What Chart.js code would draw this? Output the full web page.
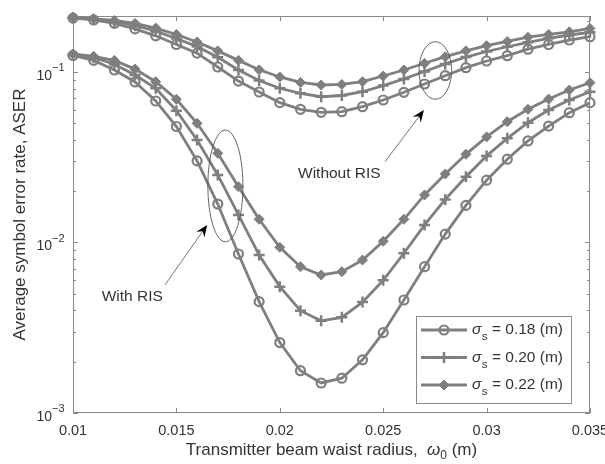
<!DOCTYPE html>
<html lang="en">
<head>
<meta charset="UTF-8">
<title>ASER vs transmitter beam waist radius</title>
<script src="https://cdn.jsdelivr.net/npm/chart.js"></script>
<style>
    body { margin: 0; background: #ffffff; }
    #wrap { width: 605px; height: 464px; }
</style>
</head>
<body>
<div id="wrap"><canvas id="aserChart" width="605" height="464"></canvas></div>
<script>
// transmitter beam waist radius omega_0 (m)
const waist = [0.010, 0.011, 0.012, 0.013, 0.014, 0.015, 0.016, 0.017, 0.018, 0.019, 0.020, 0.021, 0.022,
               0.023, 0.024, 0.025, 0.026, 0.027, 0.028, 0.029, 0.030, 0.031, 0.032, 0.033, 0.034, 0.035];

// with RIS
const risS018 = [0.1250, 0.117, 0.1027, 0.0874, 0.0676, 0.0479, 0.0301, 0.0168, 0.00856, 0.0045, 0.00259, 0.00177, 0.00150,
                 0.0016, 0.00205, 0.00296, 0.0046, 0.00721, 0.0112, 0.0165, 0.0232, 0.0308, 0.0394, 0.0482, 0.0577, 0.0661];
const risS020 = [0.1262, 0.1216, 0.111, 0.096, 0.0803, 0.0593, 0.0399, 0.0249, 0.0145, 0.00845, 0.00551, 0.00398, 0.00347,
                 0.00364, 0.00447, 0.0060, 0.00865, 0.01267, 0.0179, 0.0243, 0.0322, 0.0408, 0.0504, 0.0599, 0.0685, 0.0766];
const risS022 = [0.1275, 0.1236, 0.117, 0.104, 0.0877, 0.0692, 0.0500, 0.0334, 0.02125, 0.01368, 0.00937, 0.00721, 0.00645,
                 0.00674, 0.00789, 0.01016, 0.01368, 0.0190, 0.0252, 0.0329, 0.0416, 0.0511, 0.0604, 0.0694, 0.0784, 0.0865];

// without RIS
const noRisS018 = [0.207, 0.202, 0.193, 0.179, 0.163, 0.145, 0.129, 0.107, 0.0885, 0.0763, 0.0661, 0.0604, 0.0580,
                   0.0585, 0.0626, 0.0685, 0.0760, 0.0850, 0.0951, 0.106, 0.116, 0.1246, 0.136, 0.145, 0.154, 0.161];
const noRisS020 = [0.208, 0.204, 0.198, 0.187, 0.174, 0.157, 0.141, 0.122, 0.1027, 0.0892, 0.0803, 0.0750, 0.0716,
                   0.0728, 0.0766, 0.0832, 0.0911, 0.1006, 0.1115, 0.1224, 0.1319, 0.1406, 0.1493, 0.1576, 0.1648, 0.171];
const noRisS022 = [0.209, 0.205, 0.2005, 0.1925, 0.181, 0.166, 0.150, 0.133, 0.117, 0.103, 0.0935, 0.0868, 0.0839,
                   0.0845, 0.0877, 0.0947, 0.1027, 0.1125, 0.123, 0.133, 0.1426, 0.151, 0.160, 0.166, 0.172, 0.180];

const sigmaLabels = ['0.18', '0.20', '0.22'];
const xTicks = [0.01, 0.015, 0.02, 0.025, 0.03, 0.035];
const xTickLabels = ['0.01', '0.015', '0.02', '0.025', '0.03', '0.035'];
const yTicks = [0.001, 0.01, 0.1];
const yTickExponents = ['\u22123', '\u22122', '\u22121'];

// annotation placement, in data coordinates
const notes = [
    { text: 'With RIS', at: [0.01139, 0.00481], from: [0.01445, 0.00564], to: [0.01649, 0.01268],
      ring: { x: 0.01737, halfW: 0.00085, top: 0.0457, bottom: 0.01007 } },
    { text: 'Without RIS', at: [0.02088, 0.0252], from: [0.02509, 0.0298], to: [0.02697, 0.0598],
      ring: { x: 0.02752, halfW: 0.00079, top: 0.1505, bottom: 0.0692 } }
];

const grey = '#7f7f7f';
const axisGrey = '#8a8a8a';
const textColor = '#333333';
const fontFamily = 'Arial, "Liberation Sans", sans-serif';

const markerStyles = [
    { pointStyle: 'circle', pointRadius: 4.5, pointBorderWidth: 2.2, pointBackgroundColor: 'rgba(0,0,0,0)' },
    { pointStyle: 'cross', pointRadius: 5.5, pointBorderWidth: 2.5, pointBackgroundColor: grey },
    { pointStyle: 'rectRot', pointRadius: 5, pointBorderWidth: 1, pointBackgroundColor: grey }
];

function series(label, values, k) {
    return Object.assign({
        label: label,
        data: waist.map((w, i) => ({ x: w, y: values[i] })),
        borderColor: grey,
        pointBorderColor: grey,
        pointHoverRadius: markerStyles[k].pointRadius,
        borderWidth: 2.8,
        clip: false
    }, markerStyles[k]);
}

const datasets = [
    series('With RIS, 0.18', risS018, 0),
    series('With RIS, 0.20', risS020, 1),
    series('With RIS, 0.22', risS022, 2),
    series('Without RIS, 0.18', noRisS018, 0),
    series('Without RIS, 0.20', noRisS020, 1),
    series('Without RIS, 0.22', noRisS022, 2)
];

function line(ctx, x1, y1, x2, y2) {
    ctx.moveTo(x1, y1);
    ctx.lineTo(x2, y2);
}

// axes box, inward ticks, tick labels and axis titles
const frame = {
    id: 'frame',
    beforeDatasetsDraw(chart) {
        const { ctx, chartArea: a, scales: { x, y } } = chart;
        ctx.save();
        ctx.strokeStyle = axisGrey;
        ctx.lineWidth = 1;
        ctx.strokeRect(a.left + 0.5, a.top + 0.5, a.right - a.left - 1, a.bottom - a.top - 1);

        ctx.beginPath();
        xTicks.forEach(v => {
            const px = Math.round(x.getPixelForValue(v)) + 0.5;
            line(ctx, px, a.bottom, px, a.bottom - 5);
            line(ctx, px, a.top, px, a.top + 5);
        });
        yTicks.forEach(dec => {
            const py = Math.round(y.getPixelForValue(dec)) + 0.5;
            line(ctx, a.left, py, a.left + 5, py);
            line(ctx, a.right, py, a.right - 5, py);
            for (let m = 2; m <= 9; m++) {
                if (m * dec > y.max) break;
                const pm = Math.round(y.getPixelForValue(m * dec)) + 0.5;
                line(ctx, a.left, pm, a.left + 3, pm);
                line(ctx, a.right, pm, a.right - 3, pm);
            }
        });
        ctx.stroke();

        ctx.fillStyle = textColor;
        ctx.textBaseline = 'middle';
        ctx.textAlign = 'center';
        ctx.font = '14.5px ' + fontFamily;
        xTicks.forEach((v, i) => ctx.fillText(xTickLabels[i], x.getPixelForValue(v), a.bottom + 18));

        yTicks.forEach((v, i) => {
            const py = y.getPixelForValue(v);
            ctx.textAlign = 'right';
            ctx.font = '14px ' + fontFamily;
            ctx.fillText('10', a.left - 21, py + 4);
            ctx.textAlign = 'left';
            ctx.font = '11px ' + fontFamily;
            ctx.fillText(yTickExponents[i], a.left - 21, py - 4);
        });

        // x title with italic omega_0
        const cx = (a.left + a.right) / 2;
        const ty = a.bottom + 37;
        const partA = 'Transmitter beam waist radius,  ';
        const partC = ' (m)';
        const big = '17px ' + fontFamily;
        ctx.font = big;
        const wA = ctx.measureText(partA).width;
        const wC = ctx.measureText(partC).width;
        ctx.font = 'italic ' + big;
        const wB = ctx.measureText('\u03c9').width;
        ctx.font = '12px ' + fontFamily;
        const wS = ctx.measureText('0').width;
        let tx = cx - (wA + wB + wS + wC) / 2;
        ctx.textAlign = 'left';
        ctx.font = big;
        ctx.fillText(partA, tx, ty);
        tx += wA;
        ctx.font = 'italic ' + big;
        ctx.fillText('\u03c9', tx, ty);
        tx += wB;
        ctx.font = '12px ' + fontFamily;
        ctx.fillText('0', tx, ty + 6);
        tx += wS;
        ctx.font = big;
        ctx.fillText(partC, tx, ty);

        // y title
        ctx.save();
        ctx.translate(20, (a.top + a.bottom) / 2);
        ctx.rotate(-Math.PI / 2);
        ctx.textAlign = 'center';
        ctx.font = big;
        ctx.fillText('Average symbol error rate, ASER', 0, 0);
        ctx.restore();
        ctx.restore();
    },

    afterDraw(chart) {
        const { ctx, chartArea: a, scales: { x, y } } = chart;
        ctx.save();

        // annotations: ellipse + arrow + label
        notes.forEach(n => {
            const r = n.ring;
            const ex = x.getPixelForValue(r.x);
            const rx = Math.abs(x.getPixelForValue(r.x + r.halfW) - ex);
            const yTop = y.getPixelForValue(r.top);
            const yBot = y.getPixelForValue(r.bottom);
            ctx.beginPath();
            ctx.strokeStyle = '#555555';
            ctx.lineWidth = 0.9;
            ctx.ellipse(ex, (yTop + yBot) / 2, rx, (yBot - yTop) / 2, 0, 0, Math.PI * 2);
            ctx.stroke();

            const x1 = x.getPixelForValue(n.from[0]), y1 = y.getPixelForValue(n.from[1]);
            const x2 = x.getPixelForValue(n.to[0]), y2 = y.getPixelForValue(n.to[1]);
            const len = Math.hypot(x2 - x1, y2 - y1);
            const ux = (x2 - x1) / len, uy = (y2 - y1) / len;
            const head = 12, half = 5;
            ctx.beginPath();
            ctx.strokeStyle = '#666666';
            ctx.lineWidth = 0.9;
            ctx.moveTo(x1, y1);
            ctx.lineTo(x2 - ux * head * 0.6, y2 - uy * head * 0.6);
            ctx.stroke();
            ctx.beginPath();
            ctx.fillStyle = '#000000';
            ctx.moveTo(x2, y2);
            ctx.lineTo(x2 - ux * head - uy * half, y2 - uy * head + ux * half);
            ctx.lineTo(x2 - ux * head * 0.65, y2 - uy * head * 0.65);
            ctx.lineTo(x2 - ux * head + uy * half, y2 - uy * head - ux * half);
            ctx.closePath();
            ctx.fill();

            ctx.fillStyle = textColor;
            ctx.font = '15.5px ' + fontFamily;
            ctx.textAlign = 'left';
            ctx.textBaseline = 'middle';
            ctx.fillText(n.text, x.getPixelForValue(n.at[0]), y.getPixelForValue(n.at[1]));
        });

        // legend box
        const bw = 155, bh = 87;
        const bx = a.right - 19 - bw, by = a.bottom - 10 - bh;
        ctx.fillStyle = '#ffffff';
        ctx.fillRect(bx, by, bw, bh);
        ctx.strokeStyle = axisGrey;
        ctx.lineWidth = 1;
        ctx.strokeRect(Math.round(bx) + 0.5, Math.round(by) + 0.5, bw, bh);

        sigmaLabels.forEach((lab, i) => {
            const ds = chart.data.datasets[i];
            const ry = by + 14 + i * 27.5;
            ctx.beginPath();
            ctx.strokeStyle = grey;
            ctx.lineWidth = 2.8;
            line(ctx, bx + 5, ry, bx + 51, ry);
            ctx.stroke();
            ctx.strokeStyle = grey;
            ctx.fillStyle = ds.pointBackgroundColor;
            ctx.lineWidth = ds.pointBorderWidth;
            Chart.helpers.drawPoint(ctx, {
                pointStyle: ds.pointStyle, radius: ds.pointRadius,
                borderWidth: ds.pointBorderWidth, rotation: 0
            }, bx + 28, ry);

            ctx.fillStyle = textColor;
            ctx.textAlign = 'left';
            ctx.textBaseline = 'middle';
            let tx = bx + 56;
            ctx.font = 'italic 15.5px ' + fontFamily;
            ctx.fillText('\u03c3', tx, ry);
            tx += ctx.measureText('\u03c3').width + 0.5;
            ctx.font = '11.5px ' + fontFamily;
            ctx.fillText('s', tx, ry + 7);
            tx += ctx.measureText('s').width;
            ctx.font = '15.5px ' + fontFamily;
            ctx.fillText(' = ' + lab + ' (m)', tx, ry);
        });
        ctx.restore();
    }
};

new Chart(document.getElementById('aserChart'), {
    type: 'line',
    data: { datasets: datasets },
    plugins: [frame],
    options: {
        responsive: false,
        animation: false,
        devicePixelRatio: 1,
        layout: { padding: { left: 0, right: 15, top: 16, bottom: 0 } },
        plugins: { legend: { display: false }, tooltip: { enabled: false } },
        scales: {
            x: {
                type: 'linear', min: 0.01, max: 0.035,
                grid: { display: false }, border: { display: false },
                ticks: { display: false },
                afterFit: s => { s.height = 51; }
            },
            y: {
                type: 'logarithmic', min: 0.001, max: 0.213,
                grid: { display: false }, border: { display: false },
                ticks: { display: false },
                afterFit: s => { s.width = 73; }
            }
        }
    }
});
</script>
</body>
</html>
